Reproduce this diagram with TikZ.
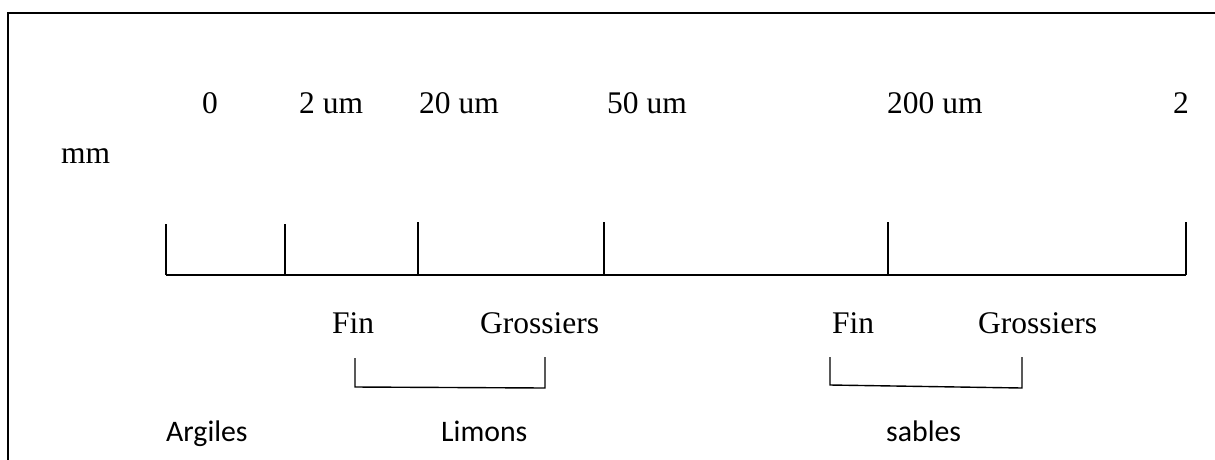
\documentclass[tikz,border=0pt]{standalone}
\usepackage{fontspec}
\setmainfont{Liberation Serif}
\newfontfamily\calfont{Carlito}
\begin{document}
\begin{tikzpicture}[x=1pt,y=-1pt,
  lab/.style={inner sep=0pt,anchor=base west,font=\fontsize{31.5}{32}\selectfont},
  clab/.style={inner sep=0pt,anchor=base west,font=\calfont\fontsize{29.8}{30}\selectfont},
  frame/.style={line width=2.8pt},
  bar/.style={line width=1.6pt},
  brk/.style={line width=1.4pt}]
\useasboundingbox (0,0) rectangle (1215,459);
% frame
\coordinate (fb) at (8,460);
\coordinate (fc) at (8,13);
\coordinate (fr) at (1216,13);
\draw[frame] (fb) -- (fc) -- (fr);
% top labels
\node[lab] (l0) at (202,113) {0};
\node[lab] (l2) at (299,113) {2 um};
\node[lab] (l20) at (419,113) {20 um};
\node[lab] (l50) at (607,113) {50 um};
\node[lab] (l200) at (887,113) {200 um};
\node[lab] (l2mm) at (1173,113) {2};
\node[lab] (mm) at (61,163) {mm};
% scale bar
\foreach \n/\x/\t in {0/166/224,1/285/224,2/418/222,3/604/222,4/888/222,5/1186/222}{
  \coordinate (b\n) at (\x,275);
  \coordinate (t\n) at (\x,\t);
}
\draw[bar] (b0) -- (b5);
\foreach \n in {0,...,5}{\draw[bar] (t\n) -- (b\n);}
% Fin / Grossiers
\node[lab] (fin1) at (332,333) {Fin};
\node[lab] (gro1) at (480,333) {Grossiers};
\node[lab] (fin2) at (832,333) {Fin};
\node[lab] (gro2) at (978,333) {Grossiers};
% brackets
\coordinate (la) at (355,358);
\coordinate (lb) at (355,387);
\coordinate (lc) at (545,388);
\coordinate (ld) at (545,357);
\draw[brk] (la) -- (lb) -- (lc) -- (ld);
\coordinate (sa) at (830,357);
\coordinate (sb) at (830,385);
\coordinate (sc) at (1022,388);
\coordinate (sd) at (1022,357);
\draw[brk] (sa) -- (sb) -- (sc) -- (sd);
% bottom labels
\node[clab] (arg) at (166,441) {Argiles};
\node[clab] (lim) at (441,441) {Limons};
\node[clab] (sab) at (886,441) {sables};
\end{tikzpicture}
\end{document}
